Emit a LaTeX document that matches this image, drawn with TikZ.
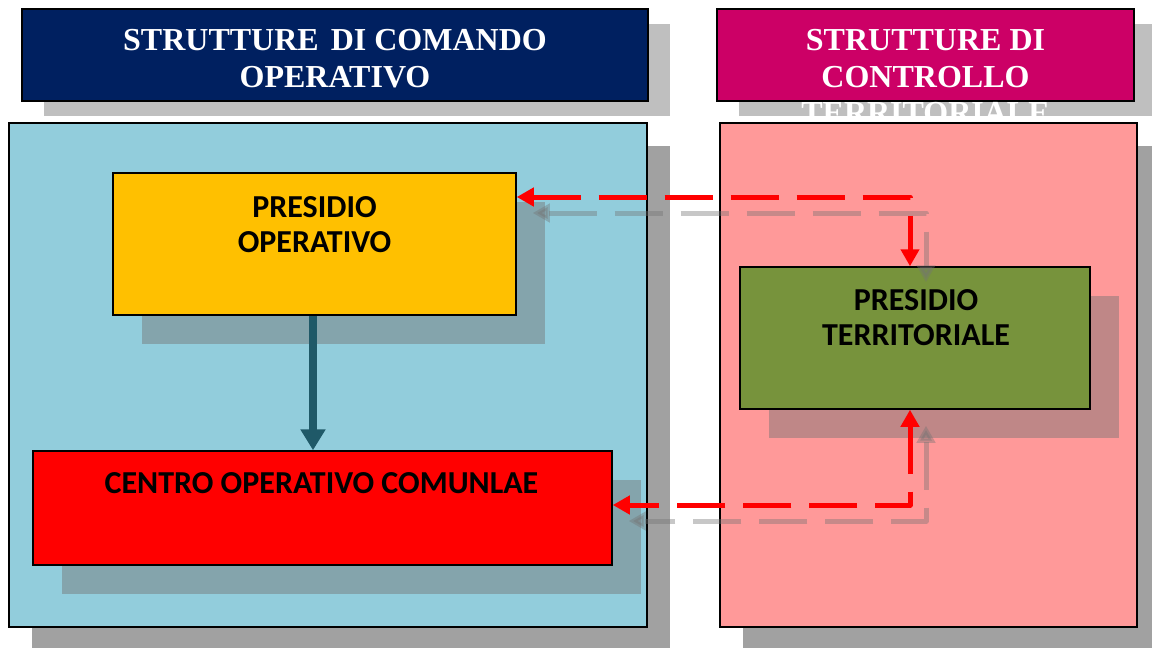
\documentclass[tikz,border=0pt]{standalone}
\usepackage{fontspec}
\setmainfont{Liberation Serif}
\newfontfamily\boxfont{Carlito}
\usepackage{tikz}
\usetikzlibrary{arrows.meta,shadows}

\definecolor{comandoblue}{RGB}{0,32,96}
\definecolor{controllomag}{RGB}{204,0,102}
\definecolor{panelblue}{RGB}{146,205,220}
\definecolor{panelpink}{RGB}{255,153,153}
\definecolor{opgold}{RGB}{255,192,0}
\definecolor{terrgreen}{RGB}{119,147,60}
\definecolor{linkteal}{RGB}{31,89,104}

\tikzset{
  header/.style={draw=black,line width=1.5pt,inner sep=0pt,
    drop shadow={shadow xshift=22pt,shadow yshift=-15pt,fill=black!25,opacity=1}},
  headtext/.style={text=white,inner sep=0pt,align=center,
    font=\fontsize{32}{36.5}\selectfont\bfseries},
  panel/.style={draw=black,line width=1.2pt,inner sep=0pt,
    drop shadow={shadow xshift=23pt,shadow yshift=-23pt,fill=black!37,opacity=1}},
  unitbox/.style={draw=black,line width=1.5pt,inner sep=0pt,
    drop shadow={shadow xshift=29pt,shadow yshift=-29pt,fill=black!55,opacity=0.45}},
  boxtext/.style={text=black,inner sep=0pt,align=center,
    font=\boxfont\fontsize{32}{35}\selectfont\bfseries},
  linkarrow/.style={draw=red,line width=5pt,line join=round,
    dash pattern=on 48pt off 18pt,
    arrows={Triangle[width=18pt,length=17pt]-Triangle[width=18pt,length=17pt]}},
  linkshadow/.style={linkarrow,draw=black!55,opacity=0.4,
    transform canvas={xshift=16pt,yshift=-16pt}},
  downarrow/.style={draw=linkteal,line width=8pt,
    arrows={-Triangle[width=24pt,length=21pt]}}
}

\begin{document}
\begin{tikzpicture}[x=1pt,y=-1pt]
\useasboundingbox (0,0) rectangle (1152,648);

% intestazioni
\node[header,fill=comandoblue,minimum width=626pt,minimum height=92pt] (hcom) at (335,55) {};
\node[header,fill=controllomag,minimum width=417pt,minimum height=92pt] (hctl) at (925.5,55) {};
\node[headtext,anchor=north] at ([yshift=-21pt]hcom.north) {STRUTTURE\hspace{4pt} DI COMANDO\\OPERATIVO};
\node[headtext,anchor=north] at ([yshift=-21pt]hctl.north) {STRUTTURE DI\\CONTROLLO\\TERRITORIALE};

% pannelli
\node[panel,fill=panelblue,minimum width=638pt,minimum height=504pt] (pcom) at (328,375) {};
\node[panel,fill=panelpink,minimum width=417pt,minimum height=504pt] (pctl) at (928.5,375) {};

% presidi e centro
\node[unitbox,fill=opgold,minimum width=403pt,minimum height=142pt] (op) at (314.5,244) {};
\node[unitbox,fill=red,minimum width=579pt,minimum height=114pt] (coc) at (322.5,508) {};
\node[unitbox,fill=terrgreen,minimum width=350pt,minimum height=142pt] (pt) at (915,338) {};
\node[boxtext,anchor=north] at ([yshift=-24pt]op.north) {PRESIDIO\\OPERATIVO};
\node[boxtext,anchor=north] at ([yshift=-22pt,xshift=-1pt]coc.north) {CENTRO OPERATIVO COMUNLAE};
\node[boxtext,anchor=north] at ([yshift=-23pt,xshift=1pt]pt.north) {PRESIDIO\\TERRITORIALE};

% collegamenti
\coordinate (c1) at (910,197);
\coordinate (c2) at (910,505);
\draw[linkshadow] (c1 -| op.east) -- (c1) -- (c1 |- pt.north);
\draw[linkshadow] (c2 |- pt.south) -- (c2) -- (c2 -| coc.east);
\draw[linkarrow] (c1 -| op.east) -- (c1) -- (c1 |- pt.north);
\draw[linkarrow] (c2 |- pt.south) -- (c2) -- (c2 -| coc.east);
\draw[downarrow] ([xshift=-1.5pt]op.south) -- ([xshift=-1.5pt]op.south |- coc.north);
\end{tikzpicture}
\end{document}
